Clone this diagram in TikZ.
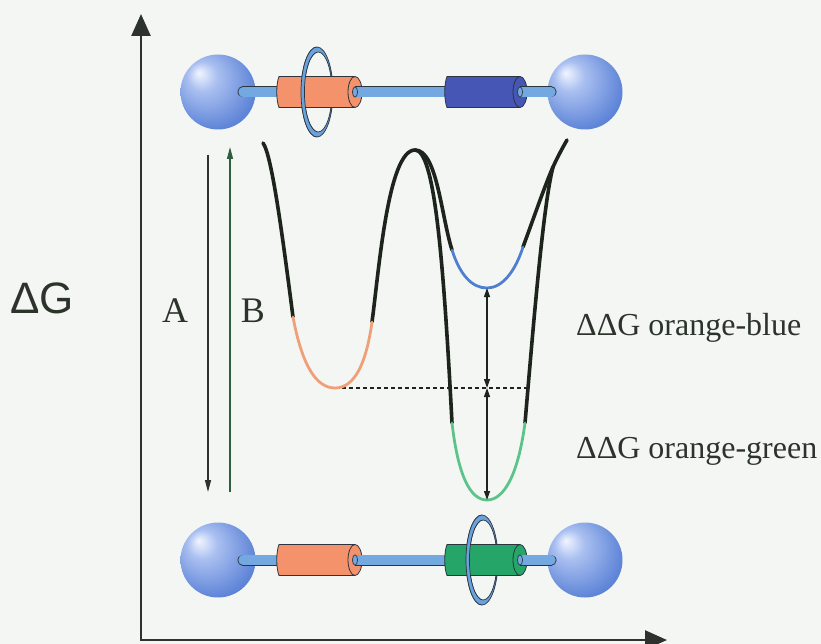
\documentclass[tikz,border=0pt]{standalone}
\usepackage{fontspec}
\setmainfont{Liberation Serif}
\newfontfamily\arialfont{Liberation Sans}
\usetikzlibrary{arrows.meta}

\definecolor{bg}{HTML}{F4F6F4}
\definecolor{ink}{HTML}{2B332B}
\definecolor{axisgray}{HTML}{2E322E}
\definecolor{curvedark}{HTML}{1C241C}
\definecolor{curveorange}{HTML}{F0A078}
\definecolor{curveblue}{HTML}{4F7FD0}
\definecolor{curvegreen}{HTML}{5CC48A}
\definecolor{rodblue}{HTML}{74A8E0}
\definecolor{ringblue}{HTML}{6AA2DC}
\definecolor{edgecol}{HTML}{2C3440}
\definecolor{tubeorange}{HTML}{F4926C}
\definecolor{tubeblue}{HTML}{4556B5}
\definecolor{tubegreen}{HTML}{25A668}
\definecolor{beadhi}{HTML}{F2F5FF}
\definecolor{beadmid}{HTML}{A9BFF0}
\definecolor{beadlo}{HTML}{5F85D8}
\definecolor{beaddk}{HTML}{3D5FBF}
\definecolor{arrowB}{HTML}{2E5E3E}

\pgfdeclareradialshading{bead}{\pgfpoint{-13bp}{13bp}}{%
  color(0bp)=(beadhi); color(10bp)=(beadmid); color(30bp)=(beadlo); color(50bp)=(beaddk)}

% blue end bead
\newcommand{\bead}[2]{\shade[shading=bead] (#1,#2) circle [radius=37.5];}
% cylinder sleeve: left x, right x, centre y, fill colour
\newcommand{\tube}[4]{%
  \fill[#4] (#1+2,#3-15.5) -- (#2-7,#3-15.5) -- (#2-7,#3+15.5) -- (#1+2,#3+15.5)
     .. controls (#1-1,#3+8) and (#1-1,#3-8) .. cycle;
  \draw[edgecol, line width=0.8pt] (#2-7,#3-15.5) -- (#1+2,#3-15.5)
     .. controls (#1-1,#3-8) and (#1-1,#3+8) .. (#1+2,#3+15.5) -- (#2-7,#3+15.5);
  \filldraw[fill=#4, draw=edgecol, line width=0.8pt] (#2-7,#3) ellipse [x radius=7, y radius=15.5];
}
% rod piece leaving a sleeve cap: from x, to x, centre y
\newcommand{\stub}[3]{%
  \draw[rodout] (#1,#3) -- (#2,#3);
  \draw[rodin] (#1,#3) -- (#2,#3);
  \filldraw[fill=rodblue, draw=edgecol, line width=0.7pt] (#1,#3) ellipse [x radius=2.5, y radius=5.2];
}
% ribbon ring round a sleeve: centre x, centre y
\newcommand{\ringband}[2]{%
  \filldraw[fill=ringblue, draw=edgecol, line width=0.7pt, even odd rule]
    (#1,#2) ellipse [x radius=16, y radius=45]
    (#1+1.2,#2) ellipse [x radius=13.8, y radius=40];
}

\begin{document}
\begin{tikzpicture}[x=1pt, y=-1pt,
  axis/.style={axisgray, line width=2.5pt},
  well/.style={curvedark, line width=3.6pt, line cap=round},
  wellcol/.style={line width=2.8pt, line cap=round},
  dim/.style={curvedark, line width=1.2pt, {Triangle[length=9pt, width=6pt]}-{Triangle[length=9pt, width=6pt]}},
  guide/.style={curvedark, line width=1.2pt, dash pattern=on 4pt off 3pt},
  rodout/.style={edgecol, line width=11pt},
  rodin/.style={rodblue, line width=9.4pt},
  lbl/.style={ink, inner sep=0pt}]

\useasboundingbox (0,0) rectangle (821,644);
\fill[bg] (0,0) rectangle (821,644);

% axes
\coordinate (O) at (141,640);
\coordinate (ytop) at (141,14);
\coordinate (xend) at (667,640);
\draw[axis, {Triangle[length=22pt, width=19pt]}-{Triangle[length=22pt, width=19pt]}] (ytop) -- (O) -- (xend);

\node[lbl, anchor=base west, font=\arialfont\fontsize{44}{44}\selectfont] (dG) at (10,313) {ΔG};

% ---------- top molecule (ring on the orange sleeve) ----------
\bead{218}{92}
\bead{585}{92}
\draw[rodout, line cap=round] (243,92) -- (551,92);
\draw[rodin, line cap=round] (243,92) -- (551,92);
\ringband{317}{92}
\tube{277}{362}{92}{tubeorange}
\stub{355}{448}{92}
\tube{445}{527}{92}{tubeblue}
\stub{520}{530}{92}
\begin{scope}
  \clip (297,40) rectangle (317,145);
  \ringband{317}{92}
\end{scope}

% ---------- bottom molecule (ring on the green sleeve) ----------
\bead{218}{560}
\bead{585}{560}
\draw[rodout, line cap=round] (243,560) -- (551,560);
\draw[rodin, line cap=round] (243,560) -- (551,560);
\tube{277}{362}{560}{tubeorange}
\stub{355}{448}{560}
\ringband{482}{560}
\tube{445}{527}{560}{tubegreen}
\stub{520}{530}{560}
\begin{scope}
  \clip (462,508) rectangle (482,613);
  \ringband{482}{560}
\end{scope}

% ---------- shuttling arrows ----------
\coordinate (Atop) at (208,155);
\coordinate (Abot) at (208,492);
\coordinate (Bbot) at (230,492);
\coordinate (Btop) at (230,147);
\draw[axisgray, line width=1.3pt, -{Triangle[length=12pt, width=6pt]}] (Atop) -- (Abot);
\draw[arrowB, line width=1.3pt, -{Triangle[length=12pt, width=6pt]}] (Bbot) -- (Btop);
\node[lbl, anchor=base, font=\fontsize{36}{36}\selectfont] (labA) at (175,322) {A};
\node[lbl, anchor=base, font=\fontsize{36}{36}\selectfont] (labB) at (253,322) {B};

% ---------- free-energy profile ----------
\coordinate (L0) at (263,143);
\coordinate (L1) at (293,317);
\coordinate (Lmin) at (335,388);
\coordinate (L2) at (372,322);
\coordinate (P) at (415,150);
\coordinate (B1) at (452,250);
\coordinate (Bmin) at (487,288);
\coordinate (B2) at (523,247);
\coordinate (G1) at (452,423);
\coordinate (Gmin) at (487,500);
\coordinate (G2) at (525,423);
\coordinate (M) at (553,167);
\coordinate (R) at (567,140);
\coordinate (Dm) at (487,388);
\coordinate (Dend) at (528,388);

\draw[guide] (Lmin) -- (Dend);

\draw[well] (L0) .. controls (272,155) and (283,240) .. (L1);
\draw[well] (L2) .. controls (379,270) and (388,150) .. (P);
\draw[well] (P) .. controls (434,150) and (443,250) .. (G1);
\draw[well] (P) .. controls (437,150) and (441,215) .. (B1);
\draw[well] (G2) .. controls (533,330) and (543,205) .. (M);
\draw[well] (B2) .. controls (533,220) and (545,185) .. (M);
\draw[well] (M) .. controls (558,156) and (563,147) .. (R);

\draw[wellcol, curveorange] (L1) .. controls (302,365) and (316,388) .. (Lmin)
  .. controls (354,388) and (366,365) .. (L2);
\draw[wellcol, curveblue] (B1) .. controls (460,275) and (472,288) .. (Bmin)
  .. controls (502,288) and (515,272) .. (B2);
\draw[wellcol, curvegreen] (G1) .. controls (458,475) and (470,500) .. (Gmin)
  .. controls (504,500) and (518,475) .. (G2);

\draw[dim] (Bmin) -- (Dm);
\draw[dim] (Dm) -- (Gmin);

\node[lbl, anchor=base west, font=\fontsize{32}{32}\selectfont] (ddGb) at (576,335) {ΔΔG orange-blue};
\node[lbl, anchor=base west, font=\fontsize{32}{32}\selectfont] (ddGg) at (576,458) {ΔΔG orange-green};

\end{tikzpicture}
\end{document}
